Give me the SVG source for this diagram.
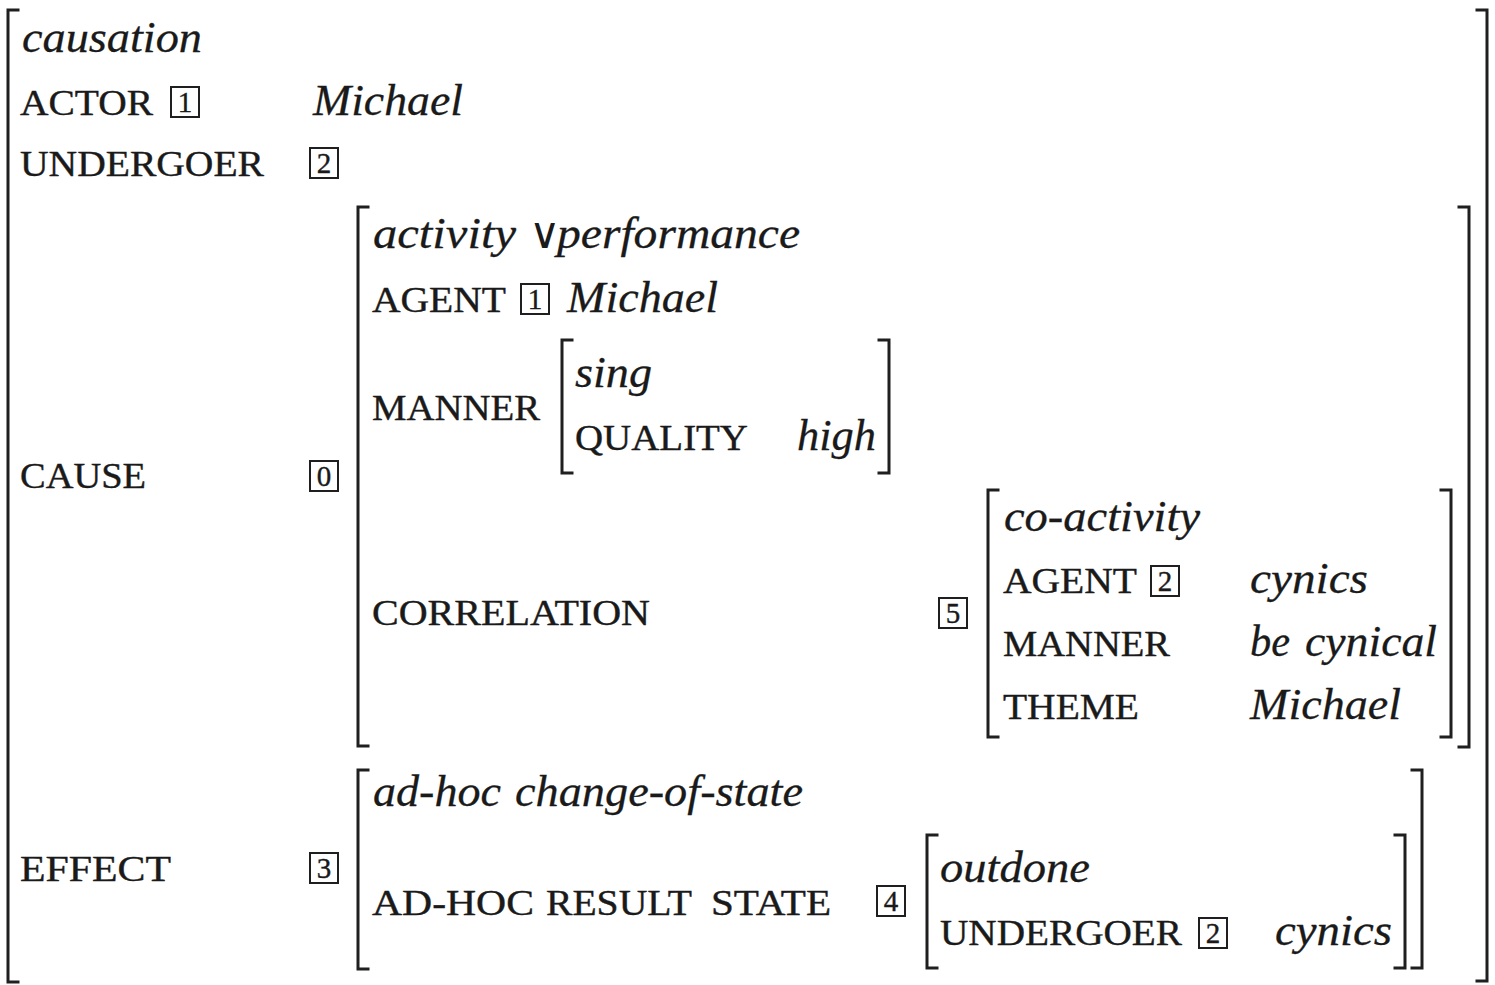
<svg xmlns="http://www.w3.org/2000/svg" width="1495" height="985" viewBox="0 0 1495 985">
  <style>
    .f { font-family: "Liberation Serif", "DejaVu Serif", serif; font-size: 35px; fill: #1a1a1a; stroke: #1a1a1a; stroke-width: 0.4; }
    .v { font-family: "Liberation Serif", "DejaVu Serif", serif; font-size: 44px; font-style: italic; fill: #1a1a1a; stroke: #1a1a1a; stroke-width: 0.3; }
    .op { font-family: "DejaVu Sans", "DejaVu Serif", sans-serif; font-size: 43px; font-weight: 200; font-style: normal; stroke-width: 0; letter-spacing: -14px; }
    .d { font-family: "Liberation Serif", "DejaVu Serif", serif; font-size: 29px; fill: #1a1a1a; stroke: #1a1a1a; stroke-width: 0.4; text-anchor: middle; }
    .br { fill: none; stroke: #1f1f1f; stroke-width: 3; stroke-linecap: square; }
    .box { fill: none; stroke: #1f1f1f; stroke-width: 2; }
  </style>
  <defs>
    <!-- coindexation tag: boxed number -->
    <rect id="tagbox" class="box" x="0" y="0" width="28" height="30"/>
  </defs>
  <rect width="1495" height="985" fill="#ffffff"/>

  <!-- outer causation structure -->
  <g id="causation">
    <path class="br" d="M18,10 H8 V982 H18"/>
    <path class="br" d="M1477,10 H1487 V981 H1477"/>
    <text class="v" x="22" y="52" textLength="180" lengthAdjust="spacingAndGlyphs">causation</text>
    <text class="f" x="20" y="115" textLength="133" lengthAdjust="spacingAndGlyphs">ACTOR</text>
    <use href="#tagbox" x="171" y="87"/>
    <text class="d" x="185" y="112">1</text>
    <text class="v" x="313" y="115" textLength="150" lengthAdjust="spacingAndGlyphs">Michael</text>
    <text class="f" x="20" y="176" textLength="244" lengthAdjust="spacingAndGlyphs">UNDERGOER</text>
    <use href="#tagbox" x="310" y="148"/>
    <text class="d" x="324" y="173">2</text>
    <text class="f" x="20" y="488" textLength="126" lengthAdjust="spacingAndGlyphs">CAUSE</text>
    <use href="#tagbox" x="310" y="461"/>
    <text class="d" x="324" y="486">0</text>
    <text class="f" x="20" y="881" textLength="151" lengthAdjust="spacingAndGlyphs">EFFECT</text>
    <use href="#tagbox" x="310" y="853"/>
    <text class="d" x="324" y="878">3</text>
  </g>

  <!-- cause: activity or performance -->
  <g id="cause">
    <path class="br" d="M368,207 H358 V746 H368"/>
    <path class="br" d="M1459,207 H1469 V747 H1459"/>
    <text class="v" x="373" y="248" textLength="143" lengthAdjust="spacingAndGlyphs">activity</text>
    <text class="v" x="529" y="248"><tspan class="op">∨</tspan><tspan x="557" textLength="243" lengthAdjust="spacingAndGlyphs">performance</tspan></text>
    <text class="f" x="372" y="312" textLength="134" lengthAdjust="spacingAndGlyphs">AGENT</text>
    <use href="#tagbox" x="521" y="284"/>
    <text class="d" x="535" y="309">1</text>
    <text class="v" x="567" y="312" textLength="151" lengthAdjust="spacingAndGlyphs">Michael</text>
    <text class="f" x="372" y="420" textLength="168" lengthAdjust="spacingAndGlyphs">MANNER</text>
    <text class="f" x="372" y="625" textLength="278" lengthAdjust="spacingAndGlyphs">CORRELATION</text>
    <use href="#tagbox" x="939" y="598"/>
    <text class="d" x="953" y="623">5</text>
  </g>

  <!-- manner: sing -->
  <g id="manner">
    <path class="br" d="M572,340 H562 V473 H572"/>
    <path class="br" d="M879,340 H889 V473 H879"/>
    <text class="v" x="575" y="387" textLength="77" lengthAdjust="spacingAndGlyphs">sing</text>
    <text class="f" x="575" y="450" textLength="173" lengthAdjust="spacingAndGlyphs">QUALITY</text>
    <text class="v" x="797" y="450" textLength="79" lengthAdjust="spacingAndGlyphs">high</text>
  </g>

  <!-- correlation: co-activity -->
  <g id="co-activity">
    <path class="br" d="M998,490 H988 V737 H998"/>
    <path class="br" d="M1441,490 H1451 V737 H1441"/>
    <text class="v" x="1004" y="531" textLength="196" lengthAdjust="spacingAndGlyphs">co-activity</text>
    <text class="f" x="1003" y="593" textLength="134" lengthAdjust="spacingAndGlyphs">AGENT</text>
    <use href="#tagbox" x="1151" y="566"/>
    <text class="d" x="1165" y="591">2</text>
    <text class="v" x="1250" y="593" textLength="118" lengthAdjust="spacingAndGlyphs">cynics</text>
    <text class="f" x="1003" y="656" textLength="167" lengthAdjust="spacingAndGlyphs">MANNER</text>
    <text class="v" x="1250" y="656"><tspan textLength="40" lengthAdjust="spacingAndGlyphs">be</tspan><tspan x="1305" textLength="132" lengthAdjust="spacingAndGlyphs">cynical</tspan></text>
    <text class="f" x="1003" y="719" textLength="136" lengthAdjust="spacingAndGlyphs">THEME</text>
    <text class="v" x="1250" y="719" textLength="151" lengthAdjust="spacingAndGlyphs">Michael</text>
  </g>

  <!-- effect: ad-hoc change-of-state -->
  <g id="effect">
    <path class="br" d="M368,770 H358 V969 H368"/>
    <path class="br" d="M1412,770 H1422 V968 H1412"/>
    <text class="v" x="373" y="806"><tspan textLength="128" lengthAdjust="spacingAndGlyphs">ad-hoc</tspan><tspan x="515" textLength="288" lengthAdjust="spacingAndGlyphs">change-of-state</tspan></text>
    <text class="f" x="372" y="915"><tspan textLength="162" lengthAdjust="spacingAndGlyphs">AD-HOC</tspan><tspan x="546" textLength="146" lengthAdjust="spacingAndGlyphs">RESULT</tspan><tspan x="711" textLength="120" lengthAdjust="spacingAndGlyphs">STATE</tspan></text>
    <use href="#tagbox" x="877" y="886"/>
    <text class="d" x="891" y="911">4</text>
  </g>

  <!-- result state: outdone -->
  <g id="result-state">
    <path class="br" d="M937,835 H927 V968 H937"/>
    <path class="br" d="M1395,835 H1405 V968 H1395"/>
    <text class="v" x="940" y="882" textLength="150" lengthAdjust="spacingAndGlyphs">outdone</text>
    <text class="f" x="940" y="945" textLength="242" lengthAdjust="spacingAndGlyphs">UNDERGOER</text>
    <use href="#tagbox" x="1199" y="918"/>
    <text class="d" x="1213" y="943">2</text>
    <text class="v" x="1275" y="945" textLength="117" lengthAdjust="spacingAndGlyphs">cynics</text>
  </g>

  <!-- no connectors in this structure -->
  <g id="connectors"/>
</svg>
